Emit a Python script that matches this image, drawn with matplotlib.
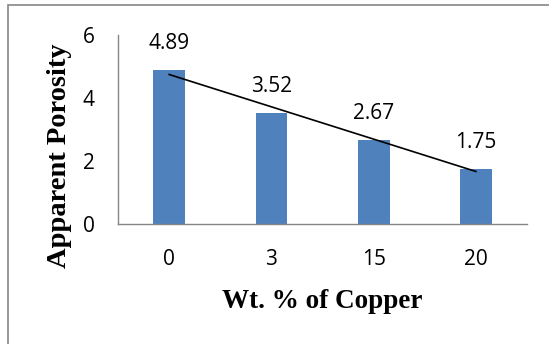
import matplotlib
matplotlib.use("Agg")
import matplotlib.pyplot as plt
from matplotlib.patches import Rectangle
import numpy as np

# Data
categories = ["0", "3", "15", "20"]
porosity = [4.89, 3.52, 2.67, 1.75]

BAR_COLOR = "#4F81BD"
AXIS_COLOR = "#868686"
LABEL_FONT = ["Open Sans", "DejaVu Sans"]
TITLE_FONT = ["Liberation Serif", "DejaVu Serif"]

fig = plt.figure(figsize=(5.49, 3.44), dpi=100)
ax = fig.add_axes([0.215, 0.349, 0.745, 0.549])

x = np.arange(len(categories))
ax.bar(x, porosity, width=0.31, color=BAR_COLOR, zorder=2)

# Linear trendline, as Excel draws it
slope, intercept = np.polyfit(x, porosity, 1)
ax.plot(x, slope * x + intercept, color="black", linewidth=1.2, zorder=3)

for xi, v in zip(x, porosity):
    ax.annotate(f"{v:.2f}", (xi, v), xytext=(0, 19), textcoords="offset points",
                ha="center", va="center", fontsize=15, family=LABEL_FONT)

ax.set_xlim(-0.5, len(categories) - 0.5)
ax.set_ylim(0, 6)
ax.set_yticks([0, 2, 4, 6])
ax.set_xticks(x)
ax.set_xticklabels(categories)
ax.tick_params(length=0, labelsize=15)
ax.tick_params(axis="x", pad=18)
ax.tick_params(axis="y", pad=17)
for lbl in ax.get_xticklabels() + ax.get_yticklabels():
    lbl.set_family(LABEL_FONT)

for side in ["top", "right"]:
    ax.spines[side].set_visible(False)
for side in ["left", "bottom"]:
    ax.spines[side].set_color(AXIS_COLOR)
    ax.spines[side].set_linewidth(1.0)

ax.set_xlabel("Wt. % of Copper", fontsize=19.5, fontweight="bold", family=TITLE_FONT,
              labelpad=14)
ax.set_ylabel("Apparent Porosity", fontsize=20.5, fontweight="bold", family=TITLE_FONT)
# the y title sits lower than the plot centre in the reference
ax.yaxis.set_label_coords(-0.112, 0.36)

# Chart area border (partly outside the picture, as in the reference)
fig.patches.append(Rectangle((7.5 / 549, -0.1), 1.2, 1.1 - 5.5 / 344,
                             transform=fig.transFigure, fill=False,
                             edgecolor=AXIS_COLOR, linewidth=1.2))

fig.savefig("out.png", dpi=100)
